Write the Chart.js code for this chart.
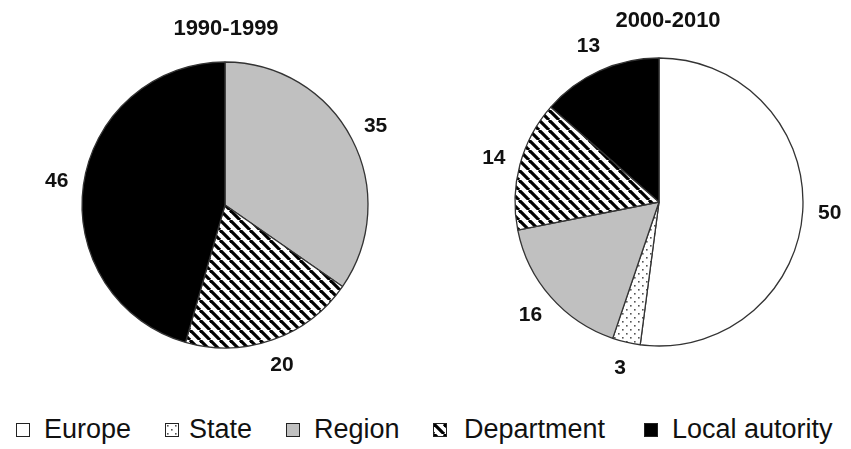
<!DOCTYPE html>
<html>
<head>
<meta charset="utf-8">
<script src="https://cdn.jsdelivr.net/npm/chart.js@4"></script>
<style>
  body { margin: 0; background: #fff; width: 851px; height: 449px; position: relative; overflow: hidden; font-family: "Liberation Sans", Arial, sans-serif; }
  canvas { position: absolute; }
  #leftPie { left: 0; top: 0; }
  #rightPie { left: 469px; top: 0; }
  .item { position: absolute; top: 414px; display: flex; align-items: center; font-size: 27px; color: #111; white-space: nowrap; }
  .sw { width: 12px; height: 12px; border: 1.5px solid #222; }
</style>
</head>
<body>
<canvas id="leftPie" width="450" height="400"></canvas>
<canvas id="rightPie" width="380" height="400"></canvas>
<script>
// Categories and shares (%) for the two periods
const categories = ['Europe', 'State', 'Region', 'Department', 'Local autority'];
const shares1990 = [0, 0, 35, 20, 46];
const shares2000 = [50, 3, 16, 14, 13];
const titles = ['1990-1999', '2000-2010'];

// Fill patterns
function makeDots() {
  const c = document.createElement('canvas');
  c.width = 8; c.height = 8;
  const g = c.getContext('2d');
  g.fillStyle = '#fff';
  g.fillRect(0, 0, 8, 8);
  g.fillStyle = '#555';
  g.fillRect(1, 1, 1.6, 1.6);
  g.fillRect(5, 5, 1.6, 1.6);
  return c;
}

function makeHatch() {
  const s = 10;
  const c = document.createElement('canvas');
  c.width = s; c.height = s;
  const g = c.getContext('2d');
  g.fillStyle = '#fff';
  g.fillRect(0, 0, s, s);
  g.strokeStyle = '#000';
  g.lineWidth = 3.2;
  for (const k of [-s, 0, s]) {
    g.beginPath();
    g.moveTo(k, 0);
    g.lineTo(k + s, s);
    g.stroke();
  }
  return c;
}

const tmp = document.createElement('canvas').getContext('2d');
const dotTile = makeDots();
const hatchTile = makeHatch();
const fills = [
  '#ffffff',
  tmp.createPattern(dotTile, 'repeat'),
  '#c0c0c0',
  tmp.createPattern(hatchTile, 'repeat'),
  '#000000'
];
const swatchBg = [
  '#ffffff',
  'url(' + dotTile.toDataURL() + ')',
  '#c0c0c0',
  'url(' + hatchTile.toDataURL() + ')',
  '#000000'
];

const FONT = '"Liberation Sans", Arial, sans-serif';

// Value labels just outside each slice, plus the period title
const pieText = {
  id: 'pieText',
  afterDatasetsDraw(chart, args, opts) {
    const ctx = chart.ctx;
    const meta = chart.getDatasetMeta(0);
    const values = chart.data.datasets[0].data;
    ctx.save();
    ctx.fillStyle = '#111';
    ctx.textAlign = 'center';
    ctx.textBaseline = 'middle';
    ctx.font = 'bold 21px ' + FONT;
    meta.data.forEach((arc, i) => {
      if (!values[i]) return;
      const mid = (arc.startAngle + arc.endAngle) / 2;
      const d = arc.outerRadius + 27;
      ctx.fillText(values[i], arc.x + Math.cos(mid) * d, arc.y + Math.sin(mid) * d);
    });
    ctx.font = 'bold 22px ' + FONT;
    const area = chart.chartArea;
    ctx.fillText(opts.title, (area.left + area.right) / 2 + opts.dx, opts.y);
    ctx.restore();
  }
};

function makePie(id, values, title, radius, pad, titlePos) {
  return new Chart(document.getElementById(id), {
    type: 'pie',
    data: {
      labels: categories,
      datasets: [{
        data: values,
        backgroundColor: fills,
        borderColor: '#333',
        borderWidth: 1.3
      }]
    },
    options: {
      responsive: false,
      animation: false,
      events: [],
      radius: radius,
      layout: { padding: pad },
      plugins: {
        legend: { display: false },
        tooltip: { enabled: false },
        pieText: { title: title, dx: titlePos[0], y: titlePos[1] }
      }
    },
    plugins: [pieText]
  });
}

makePie('leftPie', shares1990, titles[0], 143, { top: 62, bottom: 52, left: 10, right: 10 }, [1, 29]);
makePie('rightPie', shares2000, titles[1], 144, { top: 58, bottom: 54, left: 10, right: 10 }, [9, 21]);

// Shared legend under both pies
const legendX = [16, 165, 286, 433, 644];
categories.forEach((name, i) => {
  const item = document.createElement('div');
  item.className = 'item';
  item.style.left = legendX[i] + 'px';
  const sw = document.createElement('span');
  sw.className = 'sw';
  sw.style.background = swatchBg[i];
  const label = document.createElement('span');
  label.textContent = name;
  label.style.marginLeft = (i === 0 ? 14 : i === 1 ? 10 : i === 3 ? 17 : 14) + 'px';
  item.appendChild(sw);
  item.appendChild(label);
  document.body.appendChild(item);
});
</script>
</body>
</html>
